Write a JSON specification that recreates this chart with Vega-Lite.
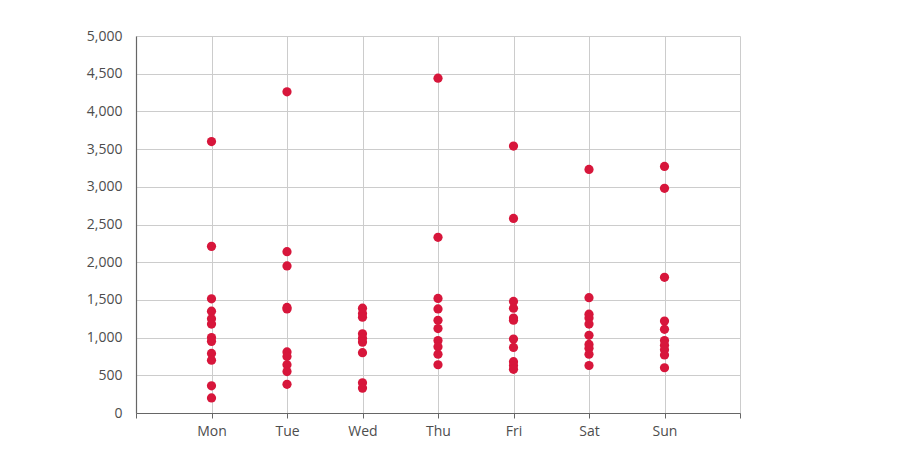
{
  "$schema": "https://vega.github.io/schema/vega-lite/v6.json",
  "autosize": {"type": "none"},
  "padding": {"left": 136, "top": 36, "right": 160, "bottom": 51},
  "width": 604,
  "height": 377,
  "background": "white",
  "data": {
    "values": [
      {"day": "Mon", "value": 3600}, {"day": "Mon", "value": 2210}, {"day": "Mon", "value": 1515},
      {"day": "Mon", "value": 1350}, {"day": "Mon", "value": 1250}, {"day": "Mon", "value": 1180},
      {"day": "Mon", "value": 1000}, {"day": "Mon", "value": 950}, {"day": "Mon", "value": 790},
      {"day": "Mon", "value": 700}, {"day": "Mon", "value": 360}, {"day": "Mon", "value": 200},
      {"day": "Tue", "value": 4260}, {"day": "Tue", "value": 2140}, {"day": "Tue", "value": 1950},
      {"day": "Tue", "value": 1400}, {"day": "Tue", "value": 1380}, {"day": "Tue", "value": 810},
      {"day": "Tue", "value": 750}, {"day": "Tue", "value": 640}, {"day": "Tue", "value": 550},
      {"day": "Tue", "value": 380},
      {"day": "Wed", "value": 1390}, {"day": "Wed", "value": 1320}, {"day": "Wed", "value": 1270},
      {"day": "Wed", "value": 1050}, {"day": "Wed", "value": 990}, {"day": "Wed", "value": 940},
      {"day": "Wed", "value": 800}, {"day": "Wed", "value": 400}, {"day": "Wed", "value": 330},
      {"day": "Thu", "value": 4440}, {"day": "Thu", "value": 2330}, {"day": "Thu", "value": 1520},
      {"day": "Thu", "value": 1380}, {"day": "Thu", "value": 1230}, {"day": "Thu", "value": 1120},
      {"day": "Thu", "value": 960}, {"day": "Thu", "value": 880}, {"day": "Thu", "value": 780},
      {"day": "Thu", "value": 640},
      {"day": "Fri", "value": 3540}, {"day": "Fri", "value": 2580}, {"day": "Fri", "value": 1480},
      {"day": "Fri", "value": 1390}, {"day": "Fri", "value": 1260}, {"day": "Fri", "value": 1230},
      {"day": "Fri", "value": 980}, {"day": "Fri", "value": 870}, {"day": "Fri", "value": 680},
      {"day": "Fri", "value": 630}, {"day": "Fri", "value": 580},
      {"day": "Sat", "value": 3230}, {"day": "Sat", "value": 1530}, {"day": "Sat", "value": 1310},
      {"day": "Sat", "value": 1260}, {"day": "Sat", "value": 1180}, {"day": "Sat", "value": 1030},
      {"day": "Sat", "value": 910}, {"day": "Sat", "value": 860}, {"day": "Sat", "value": 780},
      {"day": "Sat", "value": 630},
      {"day": "Sun", "value": 3270}, {"day": "Sun", "value": 2980}, {"day": "Sun", "value": 1800},
      {"day": "Sun", "value": 1220}, {"day": "Sun", "value": 1110}, {"day": "Sun", "value": 960},
      {"day": "Sun", "value": 900}, {"day": "Sun", "value": 840}, {"day": "Sun", "value": 770},
      {"day": "Sun", "value": 600}
    ]
  },
  "mark": {"type": "circle", "size": 85, "opacity": 1, "color": "#d7163b"},
  "encoding": {
    "x": {
      "field": "day",
      "type": "ordinal",
      "title": null,
      "scale": {
        "type": "point",
        "domain": ["_start", "Mon", "Tue", "Wed", "Thu", "Fri", "Sat", "Sun", "_end"],
        "padding": 0
      },
      "axis": {
        "labelExpr": "indexof(datum.label, '_') == 0 ? '' : datum.label",
        "labelAngle": 0,
        "labelPadding": 6,
        "tickSize": 5,
        "tickColor": "#666666",
        "domainColor": "#666666",
        "grid": true,
        "gridColor": "#cccccc"
      }
    },
    "y": {
      "field": "value",
      "type": "quantitative",
      "title": null,
      "scale": {"domain": [0, 5000], "nice": false},
      "axis": {
        "values": [0, 500, 1000, 1500, 2000, 2500, 3000, 3500, 4000, 4500, 5000],
        "format": ",.0f",
        "ticks": false,
        "labelPadding": 14,
        "domainColor": "#666666",
        "gridColor": "#cccccc"
      }
    }
  },
  "config": {
    "view": {"stroke": null},
    "axis": {
      "labelFont": "Open Sans",
      "labelFontSize": 14,
      "labelColor": "#4d4d4d",
      "domainWidth": 1.2,
      "gridWidth": 1
    }
  }
}
